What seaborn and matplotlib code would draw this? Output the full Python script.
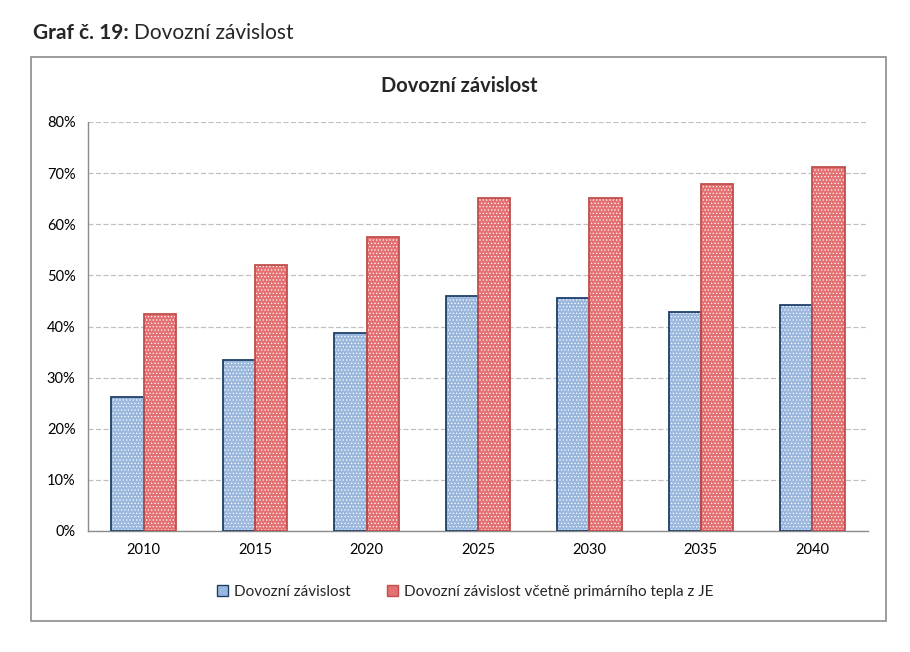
import matplotlib
matplotlib.use("Agg")
import matplotlib.pyplot as plt
import seaborn as sns
import pandas as pd
import numpy as np
from matplotlib.patches import Rectangle, Patch
from matplotlib.ticker import PercentFormatter

years = ["2010", "2015", "2020", "2025", "2030", "2035", "2040"]
dovozni = [26.3, 33.5, 38.7, 46.0, 45.6, 42.9, 44.2]
vcetne = [42.5, 52.0, 57.5, 65.2, 65.2, 67.9, 71.2]
series = ["Dovozní závislost", "Dovozní závislost včetně primárního tepla z JE"]

df = pd.DataFrame({
    "rok": years * 2,
    "hodnota": dovozni + vcetne,
    "serie": [series[0]] * len(years) + [series[1]] * len(years),
})

sns.set_theme(style="white")
plt.rcParams["font.family"] = ["Lato", "DejaVu Sans"]
plt.rcParams["hatch.linewidth"] = 0.5

fig = plt.figure(figsize=(9.1, 6.52), dpi=100)
ax = fig.add_axes([88/910, 1-531/652, (868-88)/910, (531-122)/652])

fills = {series[0]: "#9ab8de", series[1]: "#e47072"}
edges = {series[0]: "#1f3f6a", series[1]: "#c0504d"}

sns.barplot(data=df, x="rok", y="hodnota", hue="serie", order=years,
            hue_order=series, palette=fills, width=0.58, saturation=1,
            legend=False, ax=ax)

# style bars: dotted texture + outline
for cont, s in zip(ax.containers, series):
    for bar in cont:
        bar.set_hatch(".....")
        bar.set_edgecolor("#ffffff")
        bar.set_linewidth(0)
        x, y = bar.get_xy()
        ax.add_patch(Rectangle((x, y), bar.get_width(), bar.get_height(),
                               fill=False, edgecolor=edges[s], linewidth=1.3, zorder=3))

ax.set_xlim(-0.5, 6.5)
ax.set_ylim(0, 80)
ax.set_yticks(np.arange(0, 81, 10))
ax.yaxis.set_major_formatter(PercentFormatter(decimals=0))
ax.set_xlabel("")
ax.set_ylabel("")

ax.grid(axis="y", color="#c0c0c0", linestyle=(0, (4, 2)), linewidth=0.9)
ax.set_axisbelow(True)

for sp in ["top", "right"]:
    ax.spines[sp].set_visible(False)
for sp in ["left", "bottom"]:
    ax.spines[sp].set_color("#8c8c8c")
    ax.spines[sp].set_linewidth(1.0)

ax.tick_params(axis="x", which="major", length=0, labelsize=10.5, pad=9, colors="#000000")
ax.set_xticks(np.arange(-0.5, 7, 1), minor=True)
ax.tick_params(axis="x", which="minor", length=5, color="#8c8c8c", direction="out")
ax.tick_params(axis="y", length=5, color="#8c8c8c", direction="out", labelsize=10.5, pad=4)
for lbl in ax.get_xticklabels() + ax.get_yticklabels():
    lbl.set_color("#000000")

# chart title (centred in the frame)
fig.text(459/910, 1-86/652, "Dovozní závislost", fontsize=14.5, fontweight="bold",
         ha="center", va="center")

# legend
fig.legend(handles=[Patch(facecolor=fills[s], edgecolor=edges[s], linewidth=1) for s in series],
           labels=series, loc="center", bbox_to_anchor=(465/910, 1-592/652), ncol=2,
           frameon=False, fontsize=11, handlelength=0.7, handleheight=0.7,
           handletextpad=0.4, columnspacing=2.4)

# outer frame
fig.patches.append(Rectangle((31/910, 1-621/652), (886-31)/910, (621-57)/652,
                             transform=fig.transFigure, fill=False,
                             edgecolor="#8c8c8c", linewidth=1.2))

# header
t1 = fig.text(33/910, 1-33/652, "Graf č. 19:", fontsize=15, fontweight="bold",
              va="center", ha="left")
fig.canvas.draw()
bb = t1.get_window_extent()
fig.text((bb.x1 + 5)/910, 1-33/652, "Dovozní závislost", fontsize=15,
         va="center", ha="left")

fig.savefig("out.png", dpi=100)
